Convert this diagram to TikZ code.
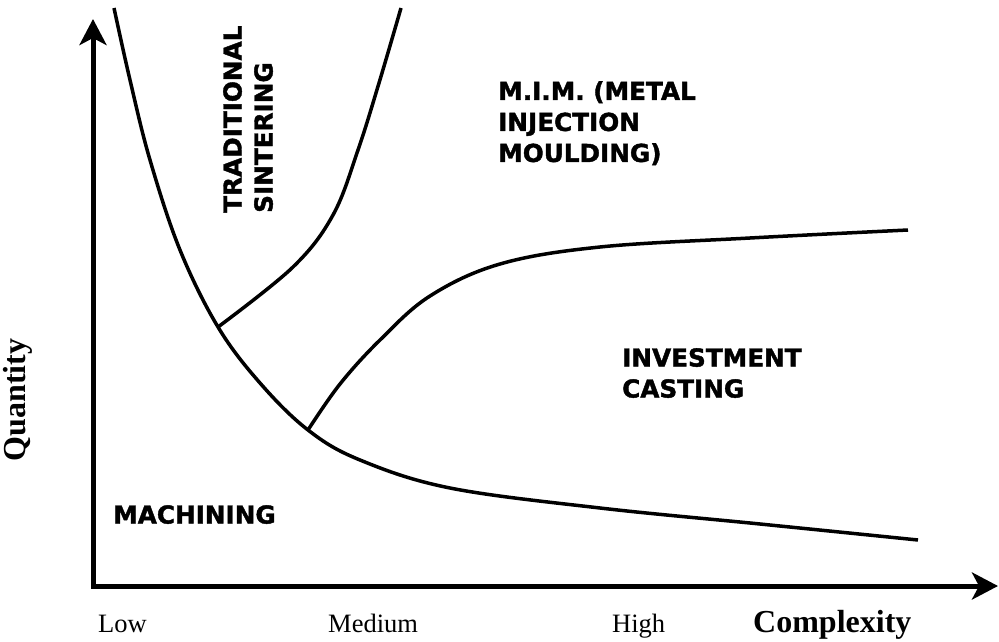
\documentclass[tikz,border=0pt]{standalone}
\usepackage{fontspec}
\setmainfont{Liberation Serif}
\newfontfamily\regionfont{DejaVu Sans Bold}[FakeBold=1.6]
\usetikzlibrary{arrows.meta,positioning}

\begin{document}
\begin{tikzpicture}[x=1pt,y=-1pt]
\tikzstyle{axis}=[line width=5pt,line join=miter,{Stealth[length=26pt,width=27pt,inset=7pt]}-{Stealth[length=26pt,width=27pt,inset=7pt]}]
\tikzstyle{curve}=[line width=3.5pt]
\tikzstyle{region}=[inner sep=0pt,align=left,font=\regionfont\fontsize{24.7}{31}\selectfont]
\tikzstyle{level}=[inner sep=0pt,anchor=base west,font=\fontsize{26.5}{30}\selectfont]
\tikzstyle{axislabel}=[inner sep=0pt,font=\bfseries\fontsize{32}{36}\selectfont]
\useasboundingbox (0,0) rectangle (999,642);
\coordinate (o) at (93,586);
\coordinate (ytop) at (93,19);
\coordinate (xend) at (998,586);
\coordinate (ts) at (218,327);
\coordinate (ic) at (308,430);
\draw [axis] (ytop) -- (o) -- (xend);
% boundaries
\draw [curve] plot[smooth,tension=0.6] coordinates {(114,8) (130,80) (150,160) (180,250) (ts) (260,383) (ic) (360,460) (450,488) (600,508) (760,524) (918,540)};
\draw [curve] plot[smooth,tension=0.6] coordinates {(ts) (293,267) (333,215) (358,150) (379,83) (401,8)};
\draw [curve] plot[smooth,tension=0.6] coordinates {(ic) (340,384) (380,340) (430,296) (500,264) (600,247) (750,238) (908,230)};
% regions
\node [region,rotate=90,anchor=north west] at (223,213) (sint) {TRADITIONAL\\SINTERING};
\node [region,anchor=north west] at (498,81) (mim) {M.I.M. (METAL\\INJECTION\\MOULDING)};
\node [region,anchor=north west] at (622,348) (cast) {INVESTMENT\\CASTING};
\node [region,anchor=north west] at (113,505) (mach) {MACHINING};
% axis labels
\node [level] at (98,632) (low) {Low};
\node [level] at (328,632) (med) {Medium};
\node [level] at (612,632) (high) {High};
\node [axislabel,anchor=base west] at (753,632) (cplx) {Complexity};
\node [axislabel,rotate=90,anchor=base] at (25,400) (qty) {Quantity};
\end{tikzpicture}
\end{document}
